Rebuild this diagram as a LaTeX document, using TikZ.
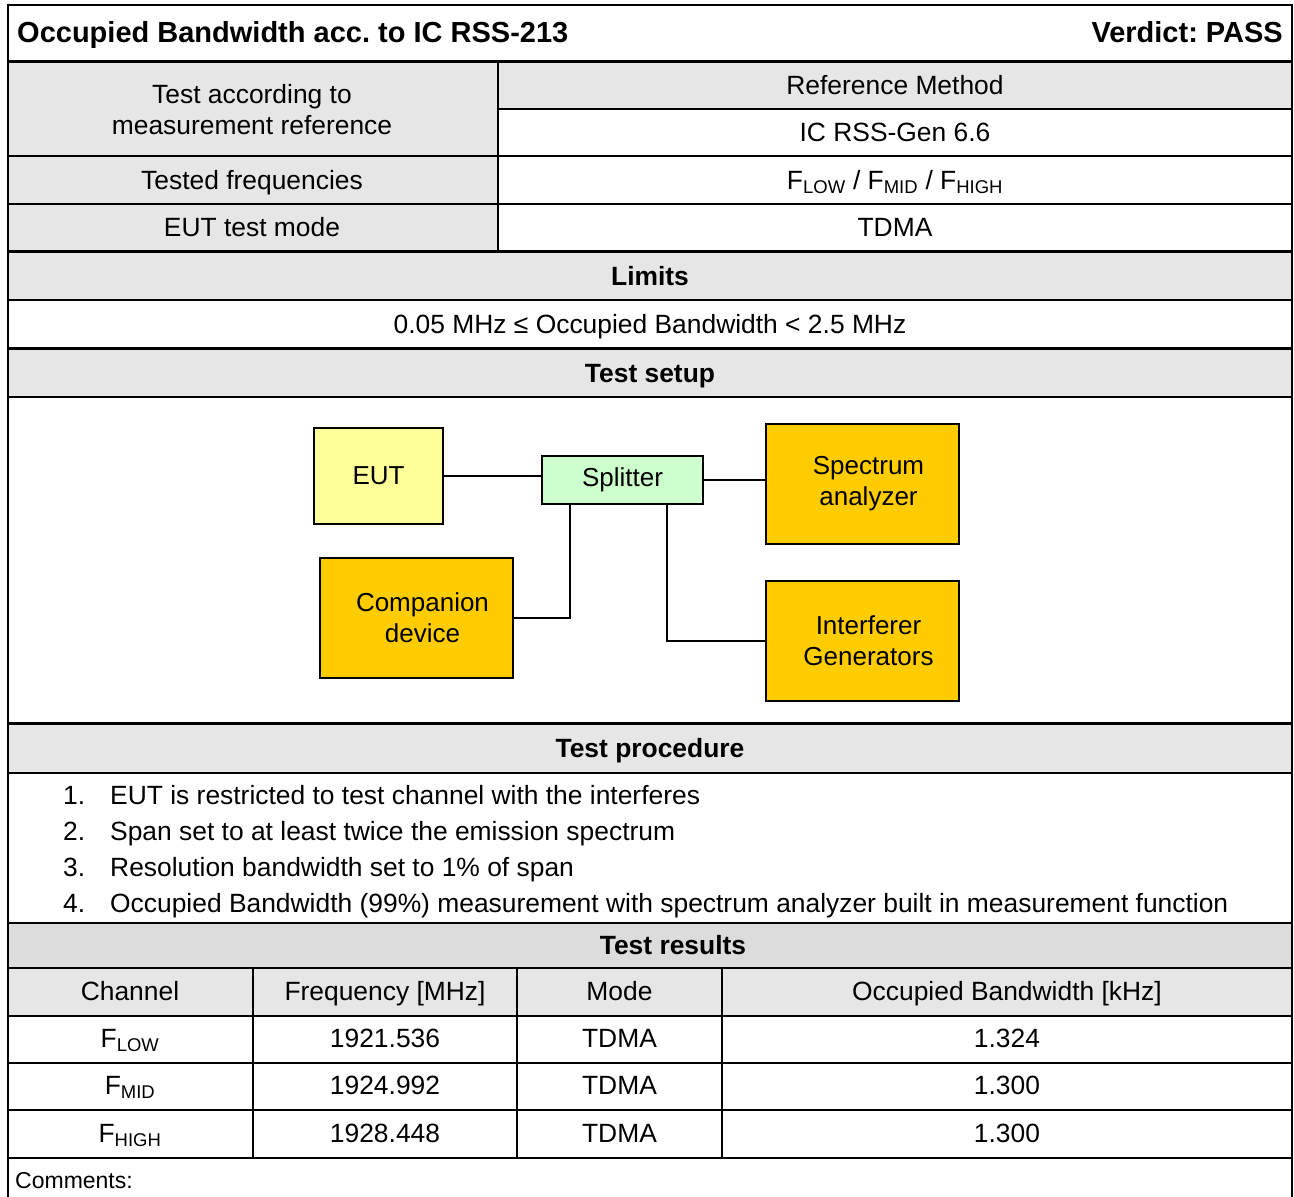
\documentclass[tikz,border=0pt]{standalone}
\usepackage{fontspec}
\setmainfont{Liberation Sans}
\frenchspacing
\definecolor{hdr}{HTML}{E6E6E6}
\definecolor{hdrb}{HTML}{DCDCDC}
\definecolor{eutc}{HTML}{FFFF99}
\definecolor{splc}{HTML}{CCFFCC}
\definecolor{devc}{HTML}{FFCC00}
\newcommand{\fsz}{\fontsize{26.4}{31}\selectfont}
\newcommand{\sh}{\hspace*{12pt}}
\begin{document}
\begin{tikzpicture}[x=1pt,y=-1pt,
  t/.style={inner sep=0pt, text height=19pt, text depth=0pt, font=\fsz},
  tb/.style={inner sep=0pt, text height=19pt, text depth=0pt, font=\fsz\bfseries},
  ttl/.style={inner sep=0pt, text height=21pt, text depth=0pt, font=\fontsize{29}{33}\selectfont\bfseries},
  ln/.style={line width=1.8pt},
  thk/.style={line width=3pt},
  box/.style={draw, line width=1.8pt, inner sep=0pt, align=center, font=\fontsize{26}{31}\selectfont},
  wire/.style={line width=1.6pt},
]
\useasboundingbox (0,0) rectangle (1294,1197);
% ---------- fills ----------
\fill[hdr] (8,61) rectangle (498,251);
\fill[hdr] (498,61) rectangle (1292,109);
\fill[hdr] (8,251) rectangle (1292,300);
\fill[hdr] (8,348) rectangle (1292,397);
\fill[hdr] (8,723) rectangle (1292,773);
\fill[hdrb] (8,923) rectangle (1292,968);
\fill[hdr] (8,968) rectangle (1292,1016);
% ---------- lines ----------
\draw[ln] (8,1199) -- (8,5) -- (1292,5) -- (1292,1199);
\draw[thk] (8,61) -- (1292,61);
\draw[ln] (498,109) -- (1292,109);
\draw[ln] (8,156) -- (1292,156);
\draw[ln] (8,204) -- (1292,204);
\draw[thk] (8,251) -- (1292,251);
\draw[ln] (8,300) -- (1292,300);
\draw[thk] (8,348) -- (1292,348);
\draw[ln] (8,397) -- (1292,397);
\draw[thk] (8,723) -- (1292,723);
\draw[ln] (8,773) -- (1292,773);
\draw[ln] (8,923) -- (1292,923);
\draw[ln] (8,968) -- (1292,968);
\draw[ln] (8,1016) -- (1292,1016);
\draw[ln] (8,1063) -- (1292,1063);
\draw[ln] (8,1110) -- (1292,1110);
\draw[ln] (8,1158) -- (1292,1158);
\draw[ln] (498,61) -- (498,251);
\draw[ln] (253,968) -- (253,1158);
\draw[ln] (517,968) -- (517,1158);
\draw[ln] (722,968) -- (722,1158);
% ---------- header texts ----------
\node[ttl, anchor=west] (title) at (17,32) {Occupied Bandwidth acc. to IC RSS-213};
\node[ttl, anchor=east] (verdict) at (1283,32) {Verdict: PASS};
\node[t] (ta1) at (252,94) {Test according to};
\node[t] (ta2) at (252,125) {measurement reference};
\node[t] (refm) at (895,85) {Reference Method};
\node[t] (rss) at (895,132) {IC RSS-Gen 6.6};
\node[t] (tf) at (252,180) {Tested frequencies};
\node[t] (freqs) at (895,180) {F\textsubscript{LOW} / F\textsubscript{MID} / F\textsubscript{HIGH}};
\node[t] (etm) at (252,227) {EUT test mode};
\node[t] (tdma) at (895,227) {TDMA};
\node[tb] (lim) at (650,276) {Limits};
\node[t] (limv) at (650,324) {0.05 MHz ≤ Occupied Bandwidth < 2.5 MHz};
\node[tb] (setup) at (650,373) {Test setup};
% ---------- diagram ----------
\node[box, fill=eutc, minimum width=129pt, minimum height=96pt] (eut) at (378.5,476) {EUT};
\node[box, fill=splc, minimum width=161pt, minimum height=48pt] (spl) at (622.5,480) {Splitter};
\node[box, fill=devc, minimum width=193pt, minimum height=120pt] (spec) at (862.5,484) {\sh Spectrum\\\sh analyzer};
\node[box, fill=devc, minimum width=193pt, minimum height=120pt] (comp) at (416.5,618) {\sh Companion\\\sh device};
\node[box, fill=devc, minimum width=193pt, minimum height=120pt] (intf) at (862.5,641) {\sh Interferer\\\sh Generators};
\draw[wire] (eut.east) -- (eut.east -| spl.west);
\draw[wire] (spl.east) -- (spl.east -| spec.west);
\draw[wire] ([xshift=29pt]spl.south west) |- (comp.east);
\draw[wire] ([xshift=126pt]spl.south west) |- (intf.west);
% ---------- procedure ----------
\node[tb] (proc) at (650,748) {Test procedure};
\node[t, anchor=west] (n1) at (63,795) {1.};
\node[t, anchor=west] (p1) at (110,795) {EUT is restricted to test channel with the interferes};
\node[t, anchor=west] (n2) at (63,831) {2.};
\node[t, anchor=west] (p2) at (110,831) {Span set to at least twice the emission spectrum};
\node[t, anchor=west] (n3) at (63,867) {3.};
\node[t, anchor=west] (p3) at (110,867) {Resolution bandwidth set to 1\% of span};
\node[t, anchor=west] (n4) at (63,903) {4.};
\node[t, anchor=west] (p4) at (110,903) {Occupied Bandwidth (99\%) measurement with spectrum analyzer built in measurement function};
% ---------- results ----------
\node[tb] (res) at (673,945) {Test results};
\node[t] (h1) at (130,991) {Channel};
\node[t] (h2) at (385,991) {Frequency [MHz]};
\node[t] (h3) at (619.5,991) {Mode};
\node[t] (h4) at (1007,991) {Occupied Bandwidth [kHz]};
\node[t] (c11) at (130,1038) {F\textsubscript{LOW}};
\node[t] (c12) at (385,1038) {1921.536};
\node[t] (c13) at (619.5,1038) {TDMA};
\node[t] (c14) at (1007,1038) {1.324};
\node[t] (c21) at (130,1085) {F\textsubscript{MID}};
\node[t] (c22) at (385,1085) {1924.992};
\node[t] (c23) at (619.5,1085) {TDMA};
\node[t] (c24) at (1007,1085) {1.300};
\node[t] (c31) at (130,1133) {F\textsubscript{HIGH}};
\node[t] (c32) at (385,1133) {1928.448};
\node[t] (c33) at (619.5,1133) {TDMA};
\node[t] (c34) at (1007,1133) {1.300};
\node[inner sep=0pt, text height=17pt, text depth=0pt, font=\fontsize{23}{27}\selectfont, anchor=west] (comm) at (15,1180) {Comments:};
\end{tikzpicture}
\end{document}
